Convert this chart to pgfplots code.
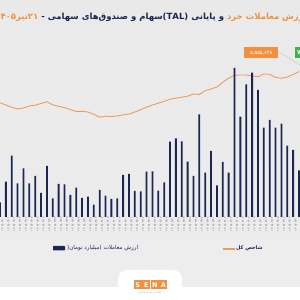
\documentclass[border=0pt]{standalone}
\usepackage{pgfplots}
\usepackage{pgfplotstable}
\pgfplotsset{compat=1.18}
\usepackage{fontspec}
\setmainfont{DejaVu Sans}
\newfontfamily\fa[Script=Arabic]{DejaVu Sans}
\TeXXeTstate=1
\definecolor{navy}{HTML}{1B2652}
\definecolor{orng}{HTML}{F2903F}
\definecolor{linecol}{HTML}{EE9B5E}
\definecolor{grn}{HTML}{3DB54A}

% daily value of retail trades (billion toman)
\pgfplotstableread{
i val
0 1450
1 3530
2 6130
3 3370
4 4870
5 3370
6 4100
7 2400
8 5100
9 1870
10 3300
11 3270
12 2200
13 2930
14 1900
15 2030
16 1230
17 2700
18 2130
19 1800
20 1870
21 4200
22 4300
23 2600
24 2570
25 4530
26 4550
27 2630
28 3470
29 7530
30 7870
31 7570
32 5530
33 4100
34 10270
35 4430
36 6600
37 3170
38 5500
39 4430
40 14900
41 10030
42 13270
43 14430
44 12700
45 8930
46 9700
47 8930
48 9330
49 7130
50 6700
51 4670
}\barsdata

% total index (thousand points)
\pgfplotstableread{
i idx
0 4724.6
1 4655.6
2 4589.6
3 4535.6
4 4565.6
5 4625.6
6 4649.6
7 4700.6
8 4751.6
9 4661.6
10 4616.6
11 4577.6
12 4520.6
13 4460.6
14 4466.6
15 4445.6
16 4376.6
17 4289.6
18 4319.6
19 4310.6
20 4325.6
21 4361.6
22 4385.6
23 4445.6
24 4514.6
25 4589.6
26 4655.6
27 4709.6
28 4766.6
29 4826.6
30 4862.6
31 4889.6
32 4919.6
33 4985.6
34 4970.6
35 5087.6
36 5135.6
37 5195.6
38 5339.6
39 5459.6
40 5549.6
41 5555.648
42 5555.6
43 5534.6
44 5501.6
45 5585.6
46 5576.6
47 5483.6
48 5456.6
49 5495.6
50 5570.6
51 5660.6
}\linedata

\pgfplotsset{panel/.style={at={(0pt,83pt)}, anchor=south west, scale only axis,
  width=299pt, height=177pt, xmin=0, xmax=51, clip=false,
  axis line style={draw=none}, major tick length=0pt, ytick=\empty}}

\begin{document}
\begin{tikzpicture}[x=1pt,y=1pt]
\clip (0,0) rectangle (300,300);
% panel background
\shade[top color=gray!17, middle color=white!98!gray, bottom color=gray!14] (0,13) rectangle (300,300);
\fill[white] (0,0) rectangle (300,13);
\fill[white, rounded corners=9pt] (118,-10) rectangle (182,30);

% title (segments set in visual order, each right-to-left inside)
\node[font=\fa\bfseries\fontsize{8.5}{10}\selectfont, inner sep=0pt] at (151,283)
  {\textcolor{orng}{\beginR ۲۱\kern0ptتیر\kern0pt۱۴۰۵\endR}\textcolor{navy}{\beginR\ و پایانی \beginL(TAL)\endL سهام و صندوق‌های سهامی - \endR}\textcolor{orng}{\beginR ارزش معاملات خرد\endR}};

% index line
\begin{axis}[panel, ymin=1295.648, ymax=6605.648, xtick=\empty]
\addplot[linecol, line width=0.9pt] table[x=i, y=idx] {\linedata};
\end{axis}

% trade value bars
\begin{axis}[panel, ymin=0, ymax=17700, xtick={0,...,51},
  xticklabels={۱۴۰۵/۰۲/۱۰,۱۴۰۵/۰۲/۱۱,۱۴۰۵/۰۲/۱۲,۱۴۰۵/۰۲/۱۳,۱۴۰۵/۰۲/۱۶,۱۴۰۵/۰۲/۱۷,۱۴۰۵/۰۲/۱۸,۱۴۰۵/۰۲/۱۹,۱۴۰۵/۰۲/۲۰,۱۴۰۵/۰۲/۲۳,۱۴۰۵/۰۲/۲۴,۱۴۰۵/۰۲/۲۵,۱۴۰۵/۰۲/۲۶,۱۴۰۵/۰۲/۲۷,۱۴۰۵/۰۲/۳۰,۱۴۰۵/۰۲/۳۱,۱۴۰۵/۰۳/۰۳,۱۴۰۵/۰۳/۰۴,۱۴۰۵/۰۳/۰۵,۱۴۰۵/۰۳/۰۶,۱۴۰۵/۰۳/۰۷,۱۴۰۵/۰۳/۱۰,۱۴۰۵/۰۳/۱۱,۱۴۰۵/۰۳/۱۲,۱۴۰۵/۰۳/۱۳,۱۴۰۵/۰۳/۱۴,۱۴۰۵/۰۳/۱۷,۱۴۰۵/۰۳/۱۸,۱۴۰۵/۰۳/۱۹,۱۴۰۵/۰۳/۲۰,۱۴۰۵/۰۳/۲۱,۱۴۰۵/۰۳/۲۴,۱۴۰۵/۰۳/۲۵,۱۴۰۵/۰۳/۲۶,۱۴۰۵/۰۳/۲۷,۱۴۰۵/۰۳/۲۸,۱۴۰۵/۰۳/۳۱,۱۴۰۵/۰۴/۰۱,۱۴۰۵/۰۴/۰۲,۱۴۰۵/۰۴/۰۳,۱۴۰۵/۰۴/۰۶,۱۴۰۵/۰۴/۰۷,۱۴۰۵/۰۴/۰۸,۱۴۰۵/۰۴/۰۹,۱۴۰۵/۰۴/۱۰,۱۴۰۵/۰۴/۱۳,۱۴۰۵/۰۴/۱۴,۱۴۰۵/۰۴/۱۵,۱۴۰۵/۰۴/۱۶,۱۴۰۵/۰۴/۱۷,۱۴۰۵/۰۴/۲۰,۱۴۰۵/۰۴/۲۱},
  xticklabel style={font=\fa\fontsize{2.8}{3}\selectfont, text=gray!80!black,
    rotate=90, anchor=east, inner sep=0pt, yshift=-2.5pt}]
\addplot[ybar, bar width=1.8pt, bar shift=0pt, fill=navy, draw=none]
  table[x=i, y=val] {\barsdata};
\end{axis}

% value callouts
\draw[gray!45, line width=0.4pt] (278.3,248.3) -- (300,235);
\node[fill=orng, text=white, font=\fa\fontsize{5}{5}\selectfont, minimum width=34pt,
  minimum height=11pt, inner sep=0pt] at (261.3,247.1) {۵,۵۵۵,۶۴۸};
\fill[grn] (295,253) rectangle (312,241.5);
\node[text=white, font=\fa\bfseries\fontsize{6}{6}\selectfont, anchor=west, inner sep=0pt] at (297,247.3) {۷};

% legend
\fill[navy, rounded corners=0.6pt] (53,49.5) rectangle (65,54);
\node[anchor=west, inner sep=0pt, text=navy, font=\fa\fontsize{5.6}{6}\selectfont] at (67,51.8)
  {\beginR ارزش معاملات \kern0pt)\kern0ptمیلیارد تومان\kern0pt(\endR};
\draw[linecol, line width=1.2pt] (223,51) -- (235,51);
\node[anchor=west, inner sep=0pt, text=navy, font=\fa\bfseries\fontsize{5}{6}\selectfont] at (236,51.5)
  {\beginR شاخص کل\endR};

% logo
\foreach \c [count=\k] in {S,E,N,A}
  \node[fill=orng, text=white, font=\bfseries\fontsize{6.5}{7}\selectfont, minimum width=7.8pt,
    minimum height=8.6pt, inner sep=0pt] at (129.3+8.5*\k,15.2) {\c};
\node[text=gray, font=\fa\fontsize{1.8}{2}\selectfont] at (150,7.5)
  {\beginR پایگاه خبری بازار سرمایه ایران\endR};
\end{tikzpicture}
\end{document}
